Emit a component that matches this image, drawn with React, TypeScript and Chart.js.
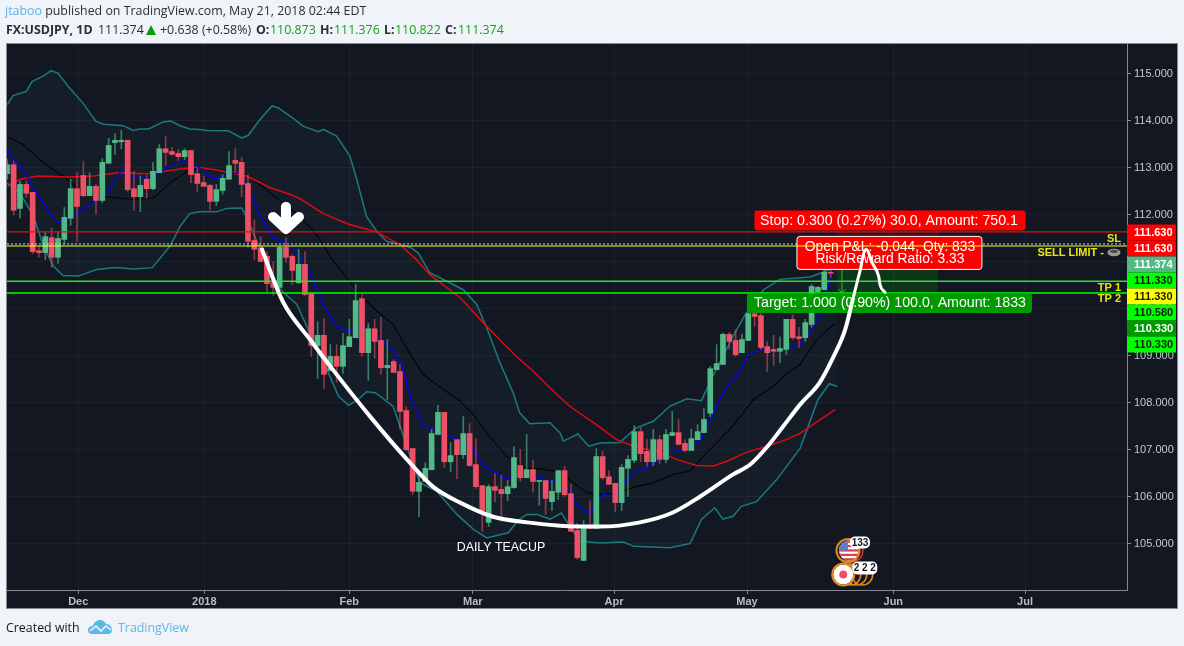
import React, { useEffect, useRef } from "react";
import { Chart, registerables } from "chart.js";

Chart.register(...registerables);

const opens = [112.87,113.06,112.13,112.64,112.47,111.23,111.19,111.51,111.09,111.47,
111.92,112.55,112.83,112.40,112.60,112.30,113.09,113.53,113.55,113.58,
112.55,112.38,112.75,112.55,112.89,113.40,113.34,113.30,113.23,113.36,
112.87,112.68,112.62,112.28,112.51,112.75,113.15,113.11,112.66,111.45,
111.28,111.11,110.55,110.45,111.30,111.11,110.55,110.94,110.32,109.21,
109.43,108.68,108.98,108.77,109.19,109.38,110.21,109.06,109.57,109.32,
108.74,108.87,108.66,107.83,107.02,106.11,106.32,106.57,107.32,107.79,
106.74,107.21,106.89,107.34,106.68,106.23,105.45,106.21,106.15,106.06,
106.19,106.66,106.40,106.57,106.32,106.34,105.89,106.09,106.55,106.06,
105.28,104.64,105.36,105.32,106.85,106.42,106.28,105.87,106.60,106.77,
107.38,106.96,106.74,107.21,106.79,107.30,107.36,107.13,106.98,107.21,
107.36,107.77,108.70,108.81,109.45,109.32,109.06,109.32,109.89,109.85,
109.19,109.13,109.09,109.13,109.77,109.40,109.38,109.66,110.36,110.40,110.76,110.873];
const highs = [113.17,113.14,112.71,112.71,112.47,111.33,111.64,111.72,111.64,112.15,
112.75,112.89,113.13,112.89,112.64,113.19,113.62,113.72,113.79,113.58,
112.92,112.82,112.83,113.11,113.49,113.66,113.43,113.38,113.40,113.36,
113.00,112.82,112.64,112.64,112.85,113.34,113.40,113.21,112.85,111.89,
111.53,111.21,111.00,111.32,111.51,111.15,111.26,111.21,110.32,109.72,
109.79,109.23,109.23,109.47,109.77,110.51,110.32,109.68,109.77,109.81,
109.34,108.91,108.81,107.91,107.02,106.53,106.72,107.43,107.94,107.79,
107.15,107.21,107.70,107.55,107.23,106.23,106.25,106.49,106.45,106.34,
107.06,107.00,107.32,106.77,106.34,106.34,106.34,106.55,106.64,106.26,
105.43,105.49,105.91,107.02,106.96,106.55,106.28,106.68,106.87,107.51,
107.47,107.21,107.43,107.30,107.43,107.81,107.64,107.21,107.43,107.53,
107.87,108.77,109.23,109.48,109.49,109.55,109.45,109.98,109.98,109.98,
109.30,109.43,109.40,109.77,109.87,109.60,109.77,110.51,110.47,110.87,110.87,111.376];
const lows = [112.75,111.99,111.92,112.36,111.17,111.09,111.04,110.87,110.96,111.38,
111.77,111.43,112.38,112.40,112.02,112.26,113.09,113.28,113.40,112.49,
112.09,112.06,112.34,112.53,112.89,113.04,113.26,113.15,113.17,112.68,
112.49,112.60,112.09,112.19,112.43,112.75,112.89,112.38,111.30,111.04,
111.00,110.36,110.28,110.40,110.98,110.51,110.53,110.28,108.98,108.51,
108.30,108.68,108.43,108.62,109.19,109.38,108.98,108.47,108.94,108.60,
108.06,108.64,107.43,106.98,106.04,105.57,106.32,106.57,107.32,106.62,
106.53,106.38,106.81,106.64,106.17,105.26,105.36,105.89,105.47,105.91,
106.17,106.32,106.40,106.09,105.81,105.62,105.70,105.94,106.00,105.26,
104.66,104.64,105.32,105.32,106.36,106.26,105.68,105.70,106.00,106.72,
106.74,106.64,106.66,106.70,106.72,107.30,107.09,106.96,106.98,107.21,
107.36,107.70,108.70,108.81,109.13,108.98,109.06,109.32,109.62,109.13,
108.66,108.79,108.85,109.02,109.34,109.17,109.30,109.60,110.34,110.40,110.66,110.822];
const closes = [113.06,112.09,112.64,112.45,111.21,111.19,111.53,111.09,111.49,111.94,
112.55,112.17,112.40,112.60,112.30,113.11,113.47,113.58,113.58,112.53,
112.38,112.62,112.55,112.92,113.40,113.32,113.28,113.23,113.36,112.85,
112.66,112.60,112.28,112.53,112.77,113.04,113.09,112.64,111.43,111.26,
111.00,110.53,110.45,111.30,111.09,110.81,110.94,110.30,109.21,109.43,
108.60,108.98,108.77,109.21,109.40,110.17,109.06,109.57,109.30,108.74,
108.79,108.64,107.81,107.00,106.11,106.30,106.60,107.34,107.79,106.74,
106.87,106.89,107.34,106.66,106.21,105.70,106.21,106.13,106.06,106.21,
106.83,106.40,106.57,106.32,106.34,105.96,106.11,106.55,106.04,105.26,
104.70,105.34,105.32,106.85,106.40,106.26,105.87,106.62,106.79,107.38,
106.91,106.74,107.21,106.79,107.32,107.36,107.11,106.98,107.23,107.38,
107.64,108.72,108.83,109.45,109.30,109.02,109.34,109.89,109.83,109.17,
109.06,109.09,109.15,109.77,109.38,109.36,109.70,110.47,110.45,110.77,110.75,111.374];

const upperBand = [[0,114.34],[0.9,114.53],[3,114.62],[3.9,114.83],[6,114.97],[6.9,115.06],[8,115.01],[9.6,114.73],[12,114.36],[14,113.98],[15.2,113.92],[18.3,113.89],[19.9,113.79],[20.9,113.82],[22.3,113.82],[24.6,113.97],[25.8,113.99],[27.3,113.89],[28.8,113.82],[30.4,113.81],[31.5,113.79],[34.9,113.78],[37,113.63],[38,113.68],[39.9,114.02],[41.8,114.31],[42.8,114.27],[45.2,114.04],[46.7,113.88],[49.1,113.76],[49.9,113.81],[52,113.67],[54.1,113.24],[55.2,112.74],[56.7,111.96],[58.3,111.65],[59.9,111.43],[62,111.36],[63.8,111.29],[64.9,111.18],[66.7,110.76],[69.4,110.58],[72,110.40],[74.1,110.09],[75.7,109.59],[77.8,108.84],[79.9,108.2],[80.9,107.78],[82.5,107.55],[85.7,107.57],[87.3,107.35],[87.8,107.18],[90.1,107.33],[91.8,107.07],[93.6,107.14],[96.7,107.15],[99.3,107.46],[102,107.6],[104.6,107.92],[107.3,108.08],[109.6,108.04],[111.5,108.59],[114.6,109.41],[116.5,109.87],[119.4,110.40],[122,110.62],[126.8,110.67],[129.9,110.83],[131,110.87]];
const lowerBand = [[0,112.67],[2,112.46],[4.1,111.97],[5.7,111.33],[7.3,110.9],[8.8,110.70],[11.2,110.69],[14.1,110.83],[17,110.87],[19.9,110.84],[22.9,110.87],[25.7,111.33],[27.3,111.75],[28.8,112.02],[30.4,112.06],[33.1,112.06],[34.6,112.13],[37,112.14],[38,111.89],[39.9,111.26],[42.5,110.48],[45.7,110.09],[47.3,109.62],[48.9,109.13],[50.7,108.63],[52.3,108.13],[53.9,107.94],[55.4,108.06],[56.7,108.23],[58.1,108.21],[60.9,107.92],[62,107.50],[63.6,106.86],[65.2,106.29],[67.8,106.11],[71,105.62],[73.6,105.30],[75.7,105.12],[79.1,105.23],[80.7,105.5],[82,105.62],[83.6,105.62],[85.7,105.52],[87.5,105.65],[88.8,105.37],[90.4,105.05],[93.6,105.01],[97.3,105.03],[98.9,104.94],[104.6,104.91],[107.8,105.0],[109.6,105.51],[111.7,105.76],[113,105.52],[114.6,105.58],[115.9,105.79],[118.3,105.89],[121.5,106.36],[125.2,107.03],[128,108.06],[129.8,108.40],[131,108.34]];
const middleBand = [[0,113.65],[2.5,113.49],[5.7,113.10],[9.4,112.76],[11.5,112.50],[14.6,112.39],[19.9,112.32],[23.1,112.35],[25.7,112.67],[28.3,112.91],[30.4,112.99],[33.1,112.92],[37.8,112.85],[40.9,112.53],[44.1,112.18],[46.2,111.97],[49.4,111.47],[50.9,111.11],[53.6,110.65],[55.7,110.30],[57.8,110.01],[60.9,109.66],[63,109.16],[65.7,108.60],[67.8,108.38],[71.5,108.03],[73.6,107.74],[75.7,107.35],[78.8,106.86],[82,106.61],[84.1,106.59],[86.7,106.54],[88.3,106.4],[91.5,106.08],[93.6,106.04],[96.7,106.08],[98.9,106.2],[102,106.29],[105.1,106.47],[107.8,106.54],[109.9,106.86],[114.6,107.5],[117.8,108.06],[121,108.35],[123.6,108.67],[125.2,108.81],[127.8,109.34],[130.7,109.68]];
const fastAverage = [[0,113.40],[0.9,113.14],[2.5,112.99],[4.1,112.53],[5.7,112.25],[7.5,111.86],[8.8,111.82],[10.7,112.0],[13.1,112.21],[15.2,112.35],[18.1,112.96],[19.6,112.82],[22,112.75],[24.1,112.89],[25.7,113.03],[28.1,113.14],[30.4,112.99],[32.5,112.75],[34.6,112.85],[36.7,112.89],[38.1,112.57],[39.9,111.97],[42,111.50],[44.1,111.40],[45.2,111.26],[47.5,110.83],[48.8,110.44],[50.2,110.01],[52,109.62],[53.9,109.50],[55.2,109.61],[57.8,109.45],[60.9,109.13],[62.3,108.81],[63.6,108.13],[65.7,107.48],[67.3,107.44],[69.4,107.28],[71.5,107.21],[73.6,107.0],[75.2,106.65],[78.6,106.38],[79.9,106.43],[82,106.54],[85.2,106.33],[87.8,106.33],[89.9,105.83],[91.7,105.65],[94.1,106.04],[95.9,106.01],[98.9,106.5],[100.9,106.61],[104.1,106.93],[106.7,107.0],[109.4,107.18],[111.5,107.78],[113.6,108.35],[115.4,108.6],[117,109.02],[118.3,109.09],[121.5,109.09],[125.2,109.23],[127.3,109.62],[128.8,109.98],[130.2,110.83]];
const slowAverage = [[0,112.60],[2,112.75],[4.9,112.82],[9.4,112.80],[13.6,112.82],[17.3,112.89],[22,112.87],[27.3,112.97],[29.9,113.01],[33.1,112.94],[37.8,112.82],[41.5,112.57],[44.6,112.43],[46.2,112.34],[49.9,112.02],[53.8,111.80],[58.3,111.63],[62,111.36],[64.6,111.04],[66.7,110.72],[71.5,110.23],[75.7,109.62],[77.8,109.33],[80.4,108.98],[83,108.67],[85.7,108.31],[88.8,107.92],[93,107.53],[96.2,107.21],[98.9,107.07],[102.5,106.96],[105.7,106.79],[108.8,106.66],[111.5,106.65],[113.6,106.75],[116.7,106.94],[120,107.07],[123,107.21],[125.2,107.35],[130.7,107.85]];
const teacupCurve = [[40.2,111.26],[43.5,110.15],[47.8,109.34],[51.4,108.70],[57.3,107.70],[63.1,106.79],[67.2,106.21],[71.5,105.87],[76.7,105.57],[82.1,105.45],[87.3,105.38],[93.6,105.36],[99.9,105.45],[105.1,105.66],[109.4,106.0],[114.6,106.47],[117.3,106.68],[120,107.06],[122.5,107.49],[125.2,107.96],[128.3,108.43],[130.4,108.96],[132.3,109.55],[133.5,110.19]];
const teacupHandle = [[133.5,110.19],[134.3,110.62],[134.8,110.89],[135.1,111.11],[135.6,111.26],[136.7,110.94],[137.6,110.68],[137.8,110.51],[138.6,110.34]];

const yTicks = [105,106,107,108,109,110,111,112,113,114,115];
const xTickBars = [11.2,31.1,54,73.5,95.8,116.8,139.9,160.7];
const xTickLabels = ["Dec","2018","Feb","Mar","Apr","May","Jun","Jul"];

const stopLevel = 111.63;
const lastPrice = 111.374;
const sellLevel = 111.33;
const tp1Level = 110.58;
const tp2Level = 110.33;
const positionStartBar = 131;
const positionEndBar = 146.9;

const tagLabels = ["111.630","111.630","111.374","111.330","111.330","110.580","110.330","110.330"];
const tagFills = ["#ff0000","#ff0000","#53b987","#00ff00","#ffff00","#00ff00","#009900","#00ff00"];
const tagInks = ["#ffffff","#ffffff","#ffffff","#1a1a1a","#1a1a1a","#1a1a1a","#ffffff","#1a1a1a"];

const UP = "#53b987";
const DOWN = "#ef5066";
const SANS = '"Liberation Sans", Arial, sans-serif';
const X_MIN = -0.05;
const X_MAX = 176.8;

function pts(list: number[][]) {
  return list.map(([x, y]) => ({ x, y }));
}
function level(price: number) {
  return [{ x: X_MIN, y: price }, { x: X_MAX, y: price }];
}
function rr(c: any, x: number, y: number, w: number, h: number, r: number) {
  c.beginPath();
  c.roundRect(x, y, w, h, r);
}

const painter = {
  id: "painter",
  beforeDraw(chart: any) {
    const c = chart.ctx;
    c.save();
    c.fillStyle = "#f0f3f7";
    c.fillRect(0, 0, 1184, 646);
    c.fillStyle = "#131722";
    c.fillRect(6, 43, 1172, 566);
    c.strokeStyle = "#85888f";
    c.lineWidth = 1;
    c.strokeRect(6.5, 43.5, 1171, 565);
    c.restore();
  },
  beforeDatasetsDraw(chart: any) {
    const c = chart.ctx;
    const X = chart.scales.x;
    const Y = chart.scales.y;
    const x0 = X.getPixelForValue(positionStartBar);
    const x1 = X.getPixelForValue(positionEndBar);
    c.save();
    c.fillStyle = "rgba(255,0,0,0.18)";
    c.fillRect(x0, Y.getPixelForValue(stopLevel), x1 - x0, Y.getPixelForValue(sellLevel) - Y.getPixelForValue(stopLevel));
    c.fillStyle = "rgba(0,255,0,0.13)";
    c.fillRect(x0, Y.getPixelForValue(sellLevel), x1 - x0, Y.getPixelForValue(tp2Level) - Y.getPixelForValue(sellLevel));
    c.restore();
  },
  beforeDatasetDraw(chart: any, args: any) {
    if (chart.data.datasets[args.index].label !== "Sell limit") return;
    const c = chart.ctx;
    const X = chart.scales.x;
    const Y = chart.scales.y;
    const ax = X.getPixelForValue(positionStartBar) + 5;
    c.save();
    c.strokeStyle = "#22c522";
    c.lineWidth = 1;
    c.beginPath();
    c.moveTo(ax, Y.getPixelForValue(sellLevel));
    c.lineTo(ax, Y.getPixelForValue(tp2Level));
    c.moveTo(ax - 3.5, Y.getPixelForValue(tp2Level) - 4);
    c.lineTo(ax, Y.getPixelForValue(tp2Level));
    c.lineTo(ax + 3.5, Y.getPixelForValue(tp2Level) - 4);
    c.stroke();
    const cx = X.getPixelForValue(positionStartBar) + 52;
    c.textAlign = "center";
    c.textBaseline = "middle";
    c.font = `14.2px ${SANS}`;
    const stopTop = Y.getPixelForValue(stopLevel) - 21.5;
    c.fillStyle = "#ff0000";
    rr(c, cx - 134.5, stopTop, 271, 20, 3);
    c.fill();
    c.fillStyle = "#ffffff";
    c.fillText("Stop: 0.300 (0.27%) 30.0, Amount: 750.1", cx, stopTop + 10.5);
    const tTop = Y.getPixelForValue(tp2Level) + 0.5;
    c.fillStyle = "#009900";
    rr(c, cx - 142, tTop, 285, 19.5, 3);
    c.fill();
    c.fillStyle = "#ffffff";
    c.fillText("Target: 1.000 (0.90%) 100.0, Amount: 1833", cx + 1, tTop + 10);
    const pTop = Y.getPixelForValue(stopLevel) + 4.5;
    c.fillStyle = "#ff0000";
    rr(c, cx - 92, pTop, 185, 33, 3);
    c.fill();
    c.strokeStyle = "#ffffff";
    c.stroke();
    c.font = `13.8px ${SANS}`;
    c.fillStyle = "#ffffff";
    c.fillText("Open P&L: -0.044, Qty: 833", cx + 1, pTop + 11);
    c.fillText("Risk/Reward Ratio: 3.33", cx + 1, pTop + 23);
    c.restore();
  },
  afterDatasetsDraw(chart: any) {
    const c = chart.ctx;
    const X = chart.scales.x;
    const Y = chart.scales.y;
    c.save();
    const tx = X.getPixelForValue(44);
    const ty = Y.getPixelForValue(111.63) + 4;
    c.strokeStyle = "#ffffff";
    c.lineWidth = 10;
    c.lineCap = "round";
    c.lineJoin = "round";
    c.beginPath();
    c.moveTo(tx, ty - 29);
    c.lineTo(tx, ty - 9);
    c.moveTo(tx - 13, ty - 19);
    c.lineTo(tx, ty - 7);
    c.lineTo(tx + 13, ty - 19);
    c.stroke();
    c.fillStyle = "#ffffff";
    c.font = `12.4px ${SANS}`;
    c.textAlign = "center";
    c.textBaseline = "middle";
    c.fillText("DAILY TEACUP", X.getPixelForValue(77.95), Y.getPixelForValue(104.915));
    const ux = X.getPixelForValue(132.9);
    const uy = Y.getPixelForValue(104.85);
    c.lineWidth = 1.5;
    c.strokeStyle = "#c8333f";
    c.beginPath(); c.arc(ux + 3, uy, 11, 0, Math.PI * 2); c.stroke();
    c.save();
    c.beginPath(); c.arc(ux, uy, 10, 0, Math.PI * 2); c.clip();
    c.fillStyle = "#ffffff"; c.fillRect(ux - 11, uy - 11, 22, 22);
    c.fillStyle = "#d9404c";
    for (let k = 0; k < 5; k++) c.fillRect(ux - 11, uy - 10 + k * 4.4, 22, 2.2);
    c.fillStyle = "#5a7ec9"; c.fillRect(ux - 11, uy - 10, 10, 10);
    c.restore();
    c.strokeStyle = "#e68a1f";
    c.lineWidth = 2;
    c.beginPath(); c.arc(ux - 1, uy, 11.5, 0, Math.PI * 2); c.stroke();
    const jx = X.getPixelForValue(132);
    const jy = Y.getPixelForValue(104.34);
    for (const d of [19, 13, 7]) {
      c.strokeStyle = "#e68a1f";
      c.lineWidth = 1.5;
      c.beginPath(); c.arc(jx + d, jy, 10.5, 0, Math.PI * 2); c.stroke();
    }
    c.fillStyle = "#ffffff";
    c.beginPath(); c.arc(jx, jy, 10, 0, Math.PI * 2); c.fill();
    c.fillStyle = "#ef5066";
    c.beginPath(); c.arc(jx, jy, 4, 0, Math.PI * 2); c.fill();
    c.strokeStyle = "#e68a1f";
    c.lineWidth = 2;
    c.beginPath(); c.arc(jx, jy, 11, 0, Math.PI * 2); c.stroke();
    c.fillStyle = "#ffffff";
    rr(c, ux + 1, uy - 14, 20, 12, 5); c.fill();
    rr(c, jx + 9, jy - 13, 25, 13, 5); c.fill();
    c.fillStyle = "#131722";
    c.font = `bold 10px ${SANS}`;
    c.fillText("133", ux + 11, uy - 7.5);
    c.fillText("2 2 2", jx + 21.5, jy - 6);
    c.restore();
  },
  afterDraw(chart: any) {
    const c = chart.ctx;
    const Y = chart.scales.y;
    const right = chart.chartArea.right;
    c.save();
    const firstCenter = Y.getPixelForValue(stopLevel);
    c.textBaseline = "middle";
    c.textAlign = "left";
    c.font = `bold 11px ${SANS}`;
    tagLabels.forEach((t, k) => {
      const cy = Math.round(firstCenter) + 16 * k + 0.5;
      c.fillStyle = tagFills[k];
      c.fillRect(right, cy - 8, 49, 16);
      c.fillStyle = tagInks[k];
      c.fillText(t, right + 7, cy + 0.5);
    });
    c.fillStyle = "#e6e60f";
    c.textAlign = "right";
    c.font = `bold 11px ${SANS}`;
    c.fillText("SL", right - 6, Y.getPixelForValue(stopLevel) + 7);
    c.fillText("SELL LIMIT -", right - 23, Y.getPixelForValue(sellLevel) + 6.5);
    c.fillText("TP 1", right - 6, Y.getPixelForValue(tp1Level) + 6.5);
    c.fillText("TP 2", right - 6, Y.getPixelForValue(tp2Level) + 6);
    const ix = right - 13;
    const iy = Y.getPixelForValue(sellLevel) + 6.5;
    c.fillStyle = "#9a9a94";
    c.beginPath(); c.ellipse(ix, iy, 6.5, 3.8, 0, 0, Math.PI * 2); c.fill();
    c.fillStyle = "#4d4a44";
    c.beginPath(); c.ellipse(ix, iy - 1.2, 4, 1.6, 0, 0, Math.PI * 2); c.fill();
    c.restore();
  },
};

export default function App() {
  const ref = useRef<HTMLCanvasElement | null>(null);
  useEffect(() => {
    const bars = opens.map((_, i) => i);
    const chart = new Chart(ref.current as HTMLCanvasElement, {
      type: "line",
      plugins: [painter],
      data: {
        datasets: [
          { label: "Upper band", data: pts(upperBand), borderColor: "#1c7a7d", borderWidth: 1.5, pointRadius: 0, fill: 1, backgroundColor: "rgba(50,160,190,0.045)", order: 20 },
          { label: "Lower band", data: pts(lowerBand), borderColor: "#1c7a7d", borderWidth: 1.5, pointRadius: 0, fill: false, order: 19 },
          { label: "Middle band", data: pts(middleBand), borderColor: "#050607", borderWidth: 1.2, pointRadius: 0, fill: false, order: 18 },
          { label: "Slow average", data: pts(slowAverage), borderColor: "#dc0a12", borderWidth: 1.5, pointRadius: 0, fill: false, order: 17 },
          { label: "Fast average", data: pts(fastAverage), borderColor: "#0808d8", borderWidth: 1.6, pointRadius: 0, fill: false, order: 16 },
          { type: "bar", label: "Wicks", data: bars.map((i) => ({ x: i, y: [lows[i], highs[i]] })), backgroundColor: bars.map((i) => (closes[i] >= opens[i] ? "rgba(83,185,135,0.62)" : "rgba(239,80,102,0.55)")), barThickness: 1, grouped: false, borderWidth: 0, order: 15 },
          { type: "bar", label: "Bodies", data: bars.map((i) => ({ x: i, y: [opens[i], closes[i]] })), backgroundColor: bars.map((i) => (closes[i] >= opens[i] ? UP : DOWN)), barThickness: 5, grouped: false, borderWidth: 0, minBarLength: 1, order: 14 },
          { label: "Stop", data: level(stopLevel), borderColor: "#d41414", borderWidth: 1.2, pointRadius: 0, fill: false, order: 13 },
          { label: "Last price", data: level(lastPrice), borderColor: "#bfe3d4", borderWidth: 1, borderDash: [2, 2], pointRadius: 0, fill: false, order: 12 },
          { label: "TP1", data: level(tp1Level), borderColor: "#22e522", borderWidth: 1.3, pointRadius: 0, fill: false, order: 11 },
          { label: "TP2", data: level(tp2Level), borderColor: "#00ff00", borderWidth: 1.5, pointRadius: 0, fill: false, order: 10 },
          { label: "Sell limit", data: level(sellLevel), borderColor: "#ffff33", borderWidth: 1.2, pointRadius: 0, fill: false, order: 9 },
          { label: "Teacup", data: pts(teacupCurve), borderColor: "#ffffff", borderWidth: 4, cubicInterpolationMode: "monotone", pointRadius: 0, fill: false, borderCapStyle: "round", borderJoinStyle: "round", order: 2 },
          { label: "Teacup handle", data: pts(teacupHandle), borderColor: "#ffffff", borderWidth: 3, cubicInterpolationMode: "monotone", pointRadius: 0, fill: false, borderCapStyle: "round", borderJoinStyle: "round", order: 1 },
        ] as any,
      },
      options: {
        animation: false,
        responsive: false,
        events: [],
        layout: { padding: { left: 7, top: 44, right: 6, bottom: 37 } },
        plugins: { legend: { display: false }, tooltip: { enabled: false }, title: { display: false } },
        scales: {
          x: {
            type: "linear",
            min: X_MIN,
            max: X_MAX,
            offset: false,
            grid: { color: "rgba(255,255,255,0.045)", tickColor: "#85888f", tickLength: 4, offset: false },
            border: { color: "#85888f", width: 1 },
            afterFit: (s: any) => { s.height = 19; },
            afterBuildTicks: (s: any) => { s.ticks = xTickBars.map((value) => ({ value })); },
            ticks: {
              autoSkip: false,
              maxRotation: 0,
              padding: 1,
              color: "#b9bcc2",
              font: { family: SANS, size: 11, weight: "bold" },
              callback: (v: any) => xTickLabels[xTickBars.indexOf(v)],
            },
          },
          y: {
            type: "linear",
            position: "right",
            min: 104.011,
            max: 115.628,
            grid: { color: "rgba(255,255,255,0.045)", tickColor: "#85888f", tickLength: 4 },
            border: { color: "#85888f", width: 1 },
            afterFit: (s: any) => { s.width = 51; },
            afterBuildTicks: (s: any) => { s.ticks = yTicks.map((value) => ({ value })); },
            ticks: {
              padding: 3,
              color: "#c6c8cd",
              font: { family: SANS, size: 11 },
              callback: (v: any) => Number(v).toFixed(3),
            },
          },
        },
      } as any,
    });
    return () => chart.destroy();
  }, []);

  const green = "#18a018";
  const abs = (left: number, top: number, extra: any = {}) => ({ position: "absolute" as const, left, top, whiteSpace: "pre" as const, lineHeight: "16px", ...extra });
  const line2 = 22;
  return (
    <div style={{ position: "absolute", left: 0, top: 0, width: 1184, height: 646, overflow: "hidden", background: "#f0f3f7", fontFamily: '"Open Sans", sans-serif', fontSize: 12.4, color: "#2a2e39" }}>
      <canvas ref={ref} width={1184} height={646} style={{ position: "absolute", left: 0, top: 0, width: 1184, height: 646 }} />
      <div style={abs(5, 3)}><span style={{ color: "#5cb4e6" }}>jtaboo</span> published on TradingView.com, May 21, 2018 02:44 EDT</div>
      <div style={abs(6, line2, { fontWeight: 700 })}>FX:USDJPY, 1D</div>
      <div style={abs(98, line2)}>111.374</div>
      <div style={{ position: "absolute", left: 146, top: 25, width: 0, height: 0, borderLeft: "5.5px solid transparent", borderRight: "5.5px solid transparent", borderBottom: "10px solid #0a9a0a" }} />
      <div style={abs(160, line2)}>+0.638 (+0.58%)</div>
      <div style={abs(256, line2, { fontWeight: 700 })}>O:</div>
      <div style={abs(270, line2, { color: green })}>110.873</div>
      <div style={abs(320, line2, { fontWeight: 700 })}>H:</div>
      <div style={abs(334, line2, { color: green })}>111.376</div>
      <div style={abs(384, line2, { fontWeight: 700 })}>L:</div>
      <div style={abs(395, line2, { color: green })}>110.822</div>
      <div style={abs(445, line2, { fontWeight: 700 })}>C:</div>
      <div style={abs(458, line2, { color: green })}>111.374</div>
      <div style={abs(6, 620, { color: "#131722" })}>Created with</div>
      <svg style={{ position: "absolute", left: 87, top: 618 }} width="26" height="18" viewBox="0 0 26 18">
        <path d="M1 12 C1 9 4 8 6 8 C7 4 10 2 13 2 C16 2 18 4 19 6 C22 6 25 8 25 12 C25 15 23 16 21 16 L5 16 C3 16 1 15 1 12 Z" fill="#5cb8e8" />
        <path d="M3 13 L9 8 L14 13 L19 8 L24 12" fill="none" stroke="#f0f3f7" strokeWidth="1.6" />
      </svg>
      <div style={abs(118, 620, { color: "#5cb8e8" })}>TradingView</div>
    </div>
  );
}
